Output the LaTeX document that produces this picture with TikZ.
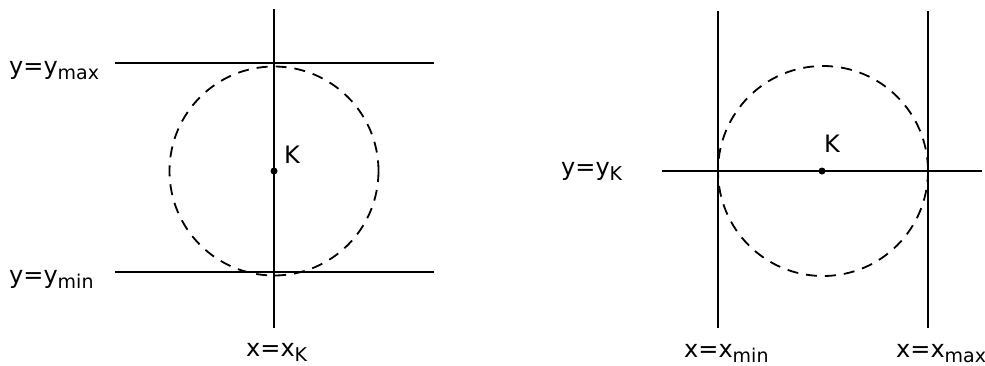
\documentclass[tikz,border=0pt]{standalone}
\usepackage{fontspec}
\setmainfont{DejaVu Sans}
\newcommand{\subtxt}[1]{\raisebox{-0.22em}{\fontsize{19}{19}\selectfont #1}}
\tikzset{
  ln/.style={line width=1.8pt},
  dcirc/.style={line width=1.8pt, dash pattern=on 11pt off 8pt},
  lbl/.style={inner sep=0pt, font=\fontsize{24}{24}\selectfont},
  pt/.style={circle, fill=black, inner sep=0pt, minimum size=7pt}
}
\begin{document}
\begin{tikzpicture}[x=1pt,y=-1pt]
\useasboundingbox (0,0) rectangle (985,365);
% left diagram
\coordinate (lvT) at (274,9);
\coordinate (lvB) at (274,328);
\coordinate (h1L) at (115,63);
\coordinate (h1R) at (434,63);
\coordinate (h2L) at (115,272);
\coordinate (h2R) at (434,272);
\draw[ln] (lvT) -- (lvB);
\draw[ln] (h1L) -- (h1R);
\draw[ln] (h2L) -- (h2R);
\node[pt] (K1) at (274,171) {};
\draw[dcirc] (K1.center) circle[radius=104.5];
\node[lbl, anchor=base west] (k1) at (284,163) {K};
\node[lbl, anchor=base west] (ymax) at (9,74) {y=y\subtxt{max}};
\node[lbl, anchor=base west] (ymin) at (9,283) {y=y\subtxt{min}};
\node[lbl, anchor=base west] (xk) at (246,356) {x=x\subtxt{K}};
% right diagram
\coordinate (v1T) at (718,11);
\coordinate (v1B) at (718,328);
\coordinate (v2T) at (928,11);
\coordinate (v2B) at (928,328);
\coordinate (hL) at (662,171);
\coordinate (hR) at (982,171);
\draw[ln] (v1T) -- (v1B);
\draw[ln] (v2T) -- (v2B);
\draw[ln] (hL) -- (hR);
\node[pt] (K2) at (822,171) {};
\draw[dcirc] (823,171) circle[radius=105];
\node[lbl, anchor=base west] (k2) at (824,152) {K};
\node[lbl, anchor=base west] (yk) at (561,175) {y=y\subtxt{K}};
\node[lbl, anchor=base west] (xmin) at (684,357) {x=x\subtxt{min}};
\node[lbl, anchor=base west] (xmax) at (896,357) {x=x\subtxt{max}};
\end{tikzpicture}
\end{document}
